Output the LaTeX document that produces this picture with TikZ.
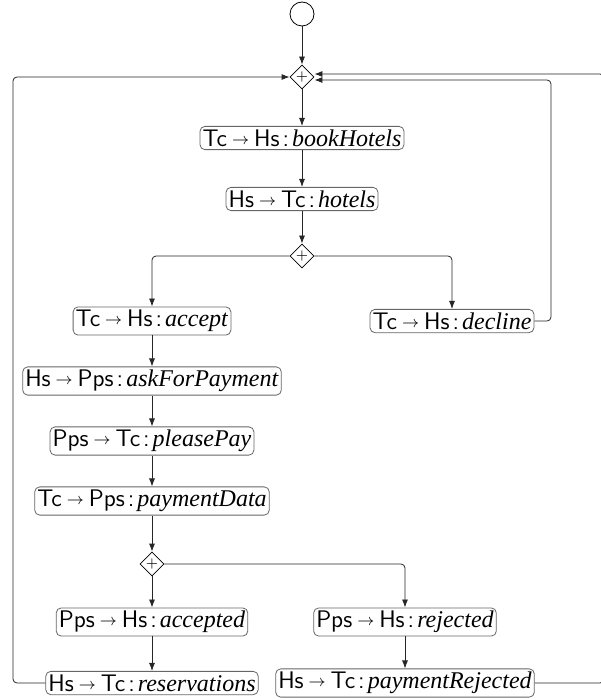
\documentclass[tikz,border=0pt]{standalone}
\usepackage{fontspec}
\setmainfont{Liberation Serif}
\usetikzlibrary{shapes.geometric,arrows.meta}

\newcommand{\msgtext}[3]{\textsf{#1}\kern2.5pt\raisebox{1pt}{\footnotesize$\rightarrow$}\kern2.5pt\textsf{#2}\kern1.5pt\textsf{:}\kern1.5pt\textit{#3}}

\tikzset{
  msg/.style={draw=black!60, rounded corners=2.5pt, inner xsep=1.3pt, inner ysep=1.6pt,
    fill=white, font=\fontsize{12}{14}\selectfont},
  gate/.style={draw, diamond, inner sep=0pt, minimum size=12pt, font=\scriptsize},
  start/.style={draw, circle, minimum size=12pt, inner sep=0pt},
  flow/.style={-{Latex[length=4pt,width=3pt]}, rounded corners=2pt, black!85},
}

\begin{document}
\begin{tikzpicture}[x=0.5pt, y=-0.5pt]
  \useasboundingbox (0,0) rectangle (600,700);

  \node[start] (begin) at (302,14) {};
  \node[gate] (g1) at (302,77) {$+$};
  \node[msg] (book) at (302,138) {\msgtext{Tc}{Hs}{bookHotels}};
  \node[msg] (hotels) at (302,199) {\msgtext{Hs}{Tc}{hotels}};
  \node[gate] (g2) at (302,256) {$+$};
  \node[msg] (accept) at (152,321) {\msgtext{Tc}{Hs}{accept}};
  \node[msg] (decline) at (452,321) {\msgtext{Tc}{Hs}{decline}};
  \node[msg] (ask) at (152,381) {\msgtext{Hs}{Pps}{askForPayment}};
  \node[msg] (pay) at (152,441) {\msgtext{Pps}{Tc}{pleasePay}};
  \node[msg] (data) at (152,501) {\msgtext{Tc}{Pps}{paymentData}};
  \node[gate] (g3) at (152,564) {$+$};
  \node[msg] (accepted) at (152,622) {\msgtext{Pps}{Hs}{accepted}};
  \node[msg] (rejected) at (405,622) {\msgtext{Pps}{Hs}{rejected}};
  \node[msg] (reserv) at (152,683) {\msgtext{Hs}{Tc}{reservations}};
  \node[msg] (payrej) at (405,683) {\msgtext{Hs}{Tc}{paymentRejected}};

  \draw[flow] (begin) -- (g1);
  \draw[flow] (g1) -- (book);
  \draw[flow] (book) -- (hotels);
  \draw[flow] (hotels) -- (g2);
  \draw[flow] (g2.west) -| (accept.north);
  \draw[flow] (g2.east) -| (decline.north);
  \draw[flow] (decline.east) -| (551,80) -- ([yshift=-1.5pt]g1.east);
  \draw[flow] (accept) -- (ask);
  \draw[flow] (ask) -- (pay);
  \draw[flow] (pay) -- (data);
  \draw[flow] (data) -- (g3);
  \draw[flow] (g3) -- (accepted);
  \draw[flow] (g3.east) -| (rejected.north);
  \draw[flow] (accepted) -- (reserv);
  \draw[flow] (rejected) -- (payrej);
  \draw[flow] (reserv.west) -| (13,77) -- (g1.west);
  \draw[flow] (payrej.east) -| (604,74) -- ([yshift=1.5pt]g1.east);
\end{tikzpicture}
\end{document}
